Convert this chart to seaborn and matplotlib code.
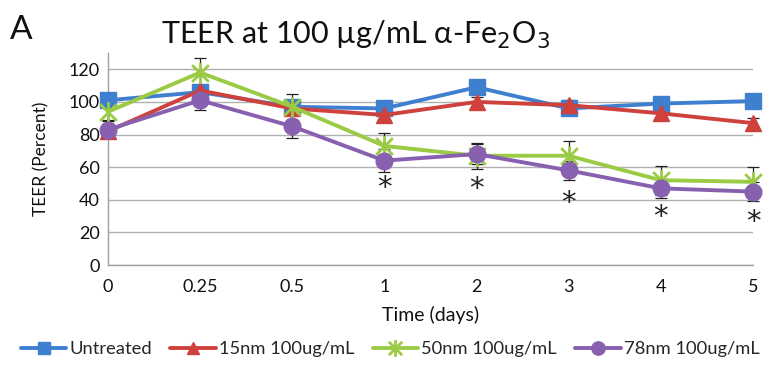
import matplotlib
matplotlib.use("Agg")
import matplotlib.pyplot as plt
from matplotlib.path import Path
import numpy as np
import pandas as pd
import seaborn as sns

# ---- data ----
time_labels = ["0", "0.25", "0.5", "1", "2", "3", "4", "5"]
series_names = ["Untreated", "15nm 100ug/mL", "50nm 100ug/mL", "78nm 100ug/mL"]
untreated = [101, 106, 97, 96, 109, 96, 99, 100.5]
nm15 = [82, 107, 96, 92, 100, 98, 93, 87]
nm50 = [94, 118, 97, 73, 67, 67, 52, 51]
nm78 = [83, 101, 85, 64, 68, 58, 47, 45]
err_untreated = [3, 3, 4, 3, 3, 3, 3, 3]
err_15 = [3, 3, 3, 3, 3, 3, 3, 3]
err_50 = [5, 9, 8, 8, 8, 9, 9, 9]
err_78 = [5, 6, 7, 7, 6, 6, 6, 6]
star_positions = ["1", "2", "3", "4", "5"]
star_values = [47, 46.5, 38, 29.5, 26.5]

sns.set_theme(style="white")
plt.rcParams['font.family'] = ['Lato', 'DejaVu Sans']

colors = ["#3f7fcf", "#cf413d", "#9bcb45", "#8860b0"]

star_path = Path([(-1, -1), (1, 1), (-1, 1), (1, -1), (0, -1.25), (0, 1.25)],
                 [Path.MOVETO, Path.LINETO, Path.MOVETO, Path.LINETO, Path.MOVETO, Path.LINETO])
markers = ["s", "^", star_path, "o"]
msizes = [11, 11, 15, 12]

values = [untreated, nm15, nm50, nm78]
errs = [err_untreated, err_15, err_50, err_78]

xpos = list(range(len(time_labels)))
rows = []
for name, vals in zip(series_names, values):
    for i, v in zip(xpos, vals):
        rows.append({"pos": i, "TEER": v, "series": name})
df = pd.DataFrame(rows)

fig = plt.figure(figsize=(7.74, 3.66), dpi=100)
ax = fig.add_axes([108/774, (366-265)/366, (753-108)/774, 212/366])

for k, name in enumerate(series_names):
    sub = df[df["series"] == name]
    ax.errorbar(sub["pos"], sub["TEER"], yerr=errs[k], fmt="none",
                ecolor="#222222", elinewidth=0.9, capsize=4, capthick=0.9,
                zorder=2, clip_on=False)

for k, name in enumerate(series_names):
    sub = df[df["series"] == name]
    filled = k != 2
    sns.lineplot(data=sub, x="pos", y="TEER", ax=ax, color=colors[k],
                 linewidth=2.8, marker=markers[k], markersize=msizes[k],
                 markeredgecolor=colors[k], markeredgewidth=2.0 if not filled else 1,
                 label=name, zorder=3, clip_on=False, errorbar=None)

for lab, v in zip(star_positions, star_values):
    ax.text(time_labels.index(lab), v, "*", ha="center", va="center",
            fontsize=21, color="#222222", family="DejaVu Sans")

ax.set_xlim(0, 7)
ax.set_ylim(0, 130)
ax.set_yticks([0, 20, 40, 60, 80, 100, 120])
ax.set_xticks(xpos)
ax.set_xticklabels(time_labels)
ax.tick_params(axis="both", labelsize=13, colors="#111111")
ax.tick_params(axis="x", length=5, color="#999999", direction="out", width=0.8, pad=5)
ax.tick_params(axis="y", length=0, pad=6)
ax.yaxis.grid(True, color="#b0b0b0", linewidth=1)
ax.set_axisbelow(True)
for s in ["top", "right"]:
    ax.spines[s].set_visible(False)
for s in ["left", "bottom"]:
    ax.spines[s].set_color("#a0a0a0")
    ax.spines[s].set_linewidth(1)
ax.set_xlabel("Time (days)", fontsize=14, labelpad=8, color="#111111")
ax.set_ylabel("TEER (Percent)", fontsize=12.5, labelpad=14, color="#111111")

fig.text(10/774, 1 - 30/366, "A", fontsize=24, va="center", ha="left", color="#111111")
fig.text(356/774, 1 - 35/366, "TEER at 100 µg/mL α-Fe$_2$O$_3$", fontsize=22,
         va="center", ha="center", color="#111111")

handles, labels = ax.get_legend_handles_labels()
ax.legend(handles, labels, loc="center", bbox_to_anchor=(390/774, 1 - 349/366),
          bbox_transform=fig.transFigure, ncol=4, frameon=False, fontsize=13.2,
          handlelength=2.5, handletextpad=0.15, columnspacing=1.0, markerscale=0.8,
          borderpad=0.2)

fig.savefig("out.png", dpi=100)
